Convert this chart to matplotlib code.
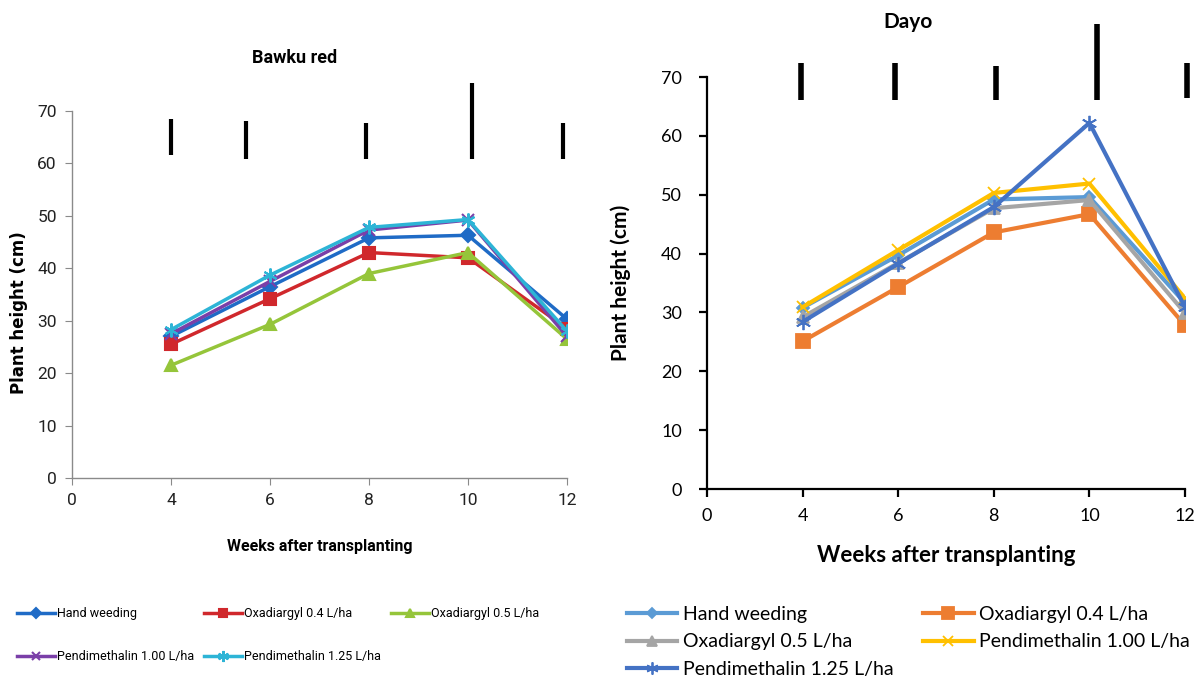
import matplotlib.pyplot as plt

# category axis: weeks after transplanting
weeks = ['0', '4', '6', '8', '10', '12']
sample_pos = [1, 2, 3, 4, 5]  # category index of weeks 4..12

treatments = ['Hand weeding', 'Oxadiargyl 0.4 L/ha', 'Oxadiargyl 0.5 L/ha',
              'Pendimethalin 1.00 L/ha', 'Pendimethalin 1.25 L/ha']

# Bawku red plant height (cm)
bawku_hand = [27.0, 36.5, 45.8, 46.3, 30.3]
bawku_oxa04 = [25.5, 34.2, 43.0, 42.0, 28.5]
bawku_oxa05 = [21.5, 29.3, 39.0, 43.0, 26.5]
bawku_pen100 = [27.5, 37.5, 47.3, 49.2, 27.0]
bawku_pen125 = [28.3, 38.7, 47.8, 49.3, 28.0]

# Dayo plant height (cm)
dayo_hand = [30.8, 39.7, 49.2, 49.6, 31.6]
dayo_oxa04 = [25.1, 34.3, 43.6, 46.7, 27.8]
dayo_oxa05 = [29.2, 38.4, 47.7, 49.1, 29.9]
dayo_pen100 = [30.9, 40.6, 50.3, 51.9, 32.4]
dayo_pen125 = [28.4, 38.3, 47.9, 62.2, 30.9]

# LSD bars drawn above the lines
bawku_lsd_x = [1.0, 1.76, 2.97, 4.04, 4.96]
bawku_lsd_lo = [61.6, 60.8, 60.8, 60.8, 60.8]
bawku_lsd_hi = [68.5, 68.1, 67.7, 75.3, 67.7]
dayo_lsd_x = [0.98, 1.97, 3.02, 4.08, 5.02]
dayo_lsd_lo = [66.1, 66.1, 66.1, 66.1, 66.4]
dayo_lsd_hi = [72.4, 72.4, 71.9, 79.0, 72.4]

star = (6, 2, 0)

narrow = ['Roboto', 'DejaVu Sans']
lato = ['Lato', 'DejaVu Sans']

fig = plt.figure(figsize=(12, 6.79), dpi=100)

# ---------------- left: Bawku red ----------------
ax1 = fig.add_axes([72/1200, 1 - 478/679, (567-72)/1200, (478-111)/679])
left_styles = [
    (bawku_hand, '#1F6BC6', 'D', 7),
    (bawku_oxa04, '#D0282C', 's', 8),
    (bawku_oxa05, '#95C53A', '^', 8),
    (bawku_pen100, '#7A3FA8', 'x', 8),
    (bawku_pen125, '#2DB4D6', star, 10),
]
left_handles = []
for (vals, col, mk, ms), name in zip(left_styles, treatments):
    ln, = ax1.plot(sample_pos, vals, color=col, lw=2.5, marker=mk, ms=ms,
                   mec=col, mfc=col, mew=1.5, label=name)
    left_handles.append(ln)
ax1.vlines(bawku_lsd_x, bawku_lsd_lo, bawku_lsd_hi, colors='black', lw=3, clip_on=False)

ax1.set_xlim(0, 5)
ax1.set_ylim(0, 70)
ax1.set_xticks(range(len(weeks)))
ax1.set_xticklabels(weeks)
ax1.set_yticks(range(0, 71, 10))
for s in ['top', 'right']:
    ax1.spines[s].set_visible(False)
for s in ['left', 'bottom']:
    ax1.spines[s].set_color('#8a8a8a')
    ax1.spines[s].set_linewidth(1)
ax1.tick_params(direction='out', length=5, color='#8a8a8a', labelsize=12.5, pad=6)
for lab in ax1.get_xticklabels() + ax1.get_yticklabels():
    lab.set_family(narrow)
    lab.set_color('#222222')
ax1.set_ylabel('Plant height (cm)', fontsize=12, fontweight='bold', family='DejaVu Sans')
ax1.yaxis.set_label_coords(-0.088, 0.45)

fig.text(295/1200, 1 - 58/679, 'Bawku red', ha='center', va='center', fontsize=13,
         fontweight='bold', family=narrow)
fig.text(320/1200, 1 - 547/679, 'Weeks after transplanting', ha='center', va='center',
         fontsize=11.5, fontweight='bold', family=narrow)

order_l = [0, 3, 1, 4, 2]
fig.legend([left_handles[i] for i in order_l], [treatments[i] for i in order_l],
           loc='upper left', bbox_to_anchor=(12/1200, 1 - 602/679), ncol=3,
           frameon=False, prop={'family': narrow, 'size': 9},
           handlelength=3.0, handletextpad=0.2, columnspacing=0.8, labelspacing=2.4,
           borderaxespad=0, markerscale=0.8)

# ---------------- right: Dayo ----------------
ax2 = fig.add_axes([707/1200, 1 - 489/679, (1185-707)/1200, (489-77)/679])
right_styles = [
    (dayo_hand, '#5B9BD5', 'D', 6),
    (dayo_oxa04, '#ED7D31', 's', 10),
    (dayo_oxa05, '#A5A5A5', '^', 9),
    (dayo_pen100, '#FFC000', 'x', 9),
    (dayo_pen125, '#4472C4', star, 11),
]
right_handles = []
for (vals, col, mk, ms), name in zip(right_styles, treatments):
    ln, = ax2.plot(sample_pos, vals, color=col, lw=3, marker=mk, ms=ms,
                   mec=col, mfc=col, mew=1.3, label=name)
    right_handles.append(ln)
ax2.vlines(dayo_lsd_x, dayo_lsd_lo, dayo_lsd_hi, colors='black', lw=4, clip_on=False)

ax2.set_xlim(0, 5)
ax2.set_ylim(0, 70)
ax2.set_xticks(range(len(weeks)))
ax2.set_xticklabels(weeks)
ax2.set_yticks(range(0, 71, 10))
for s in ['top', 'right']:
    ax2.spines[s].set_visible(False)
for s in ['left', 'bottom']:
    ax2.spines[s].set_color('black')
    ax2.spines[s].set_linewidth(1.6)
ax2.tick_params(direction='out', length=6, width=1.6, color='black', labelsize=13, pad=8)
ax2.tick_params(axis='y', pad=12)
for lab in ax2.get_xticklabels() + ax2.get_yticklabels():
    lab.set_family(lato)
ax2.set_ylabel('Plant height (cm)', fontsize=15, fontweight='bold', family=lato)
ax2.yaxis.set_label_coords(-0.16, 0.5)

fig.text(908/1200, 1 - 22/679, 'Dayo', ha='center', va='center', fontsize=15,
         fontweight='bold', family=lato)
fig.text(946/1200, 1 - 556/679, 'Weeks after transplanting', ha='center', va='center',
         fontsize=16, fontweight='bold', family=lato)

order_r = [0, 2, 4, 1, 3]
fig.legend([right_handles[i] for i in order_r], [treatments[i] for i in order_r],
           loc='upper left', bbox_to_anchor=(619/1200, 1 - 598/679), ncol=2,
           frameon=False, prop={'family': lato, 'size': 14},
           handlelength=2.6, handletextpad=0.3, columnspacing=1.5, labelspacing=0.55,
           borderaxespad=0, markerscale=0.8)

fig.savefig('out.png', dpi=100)
